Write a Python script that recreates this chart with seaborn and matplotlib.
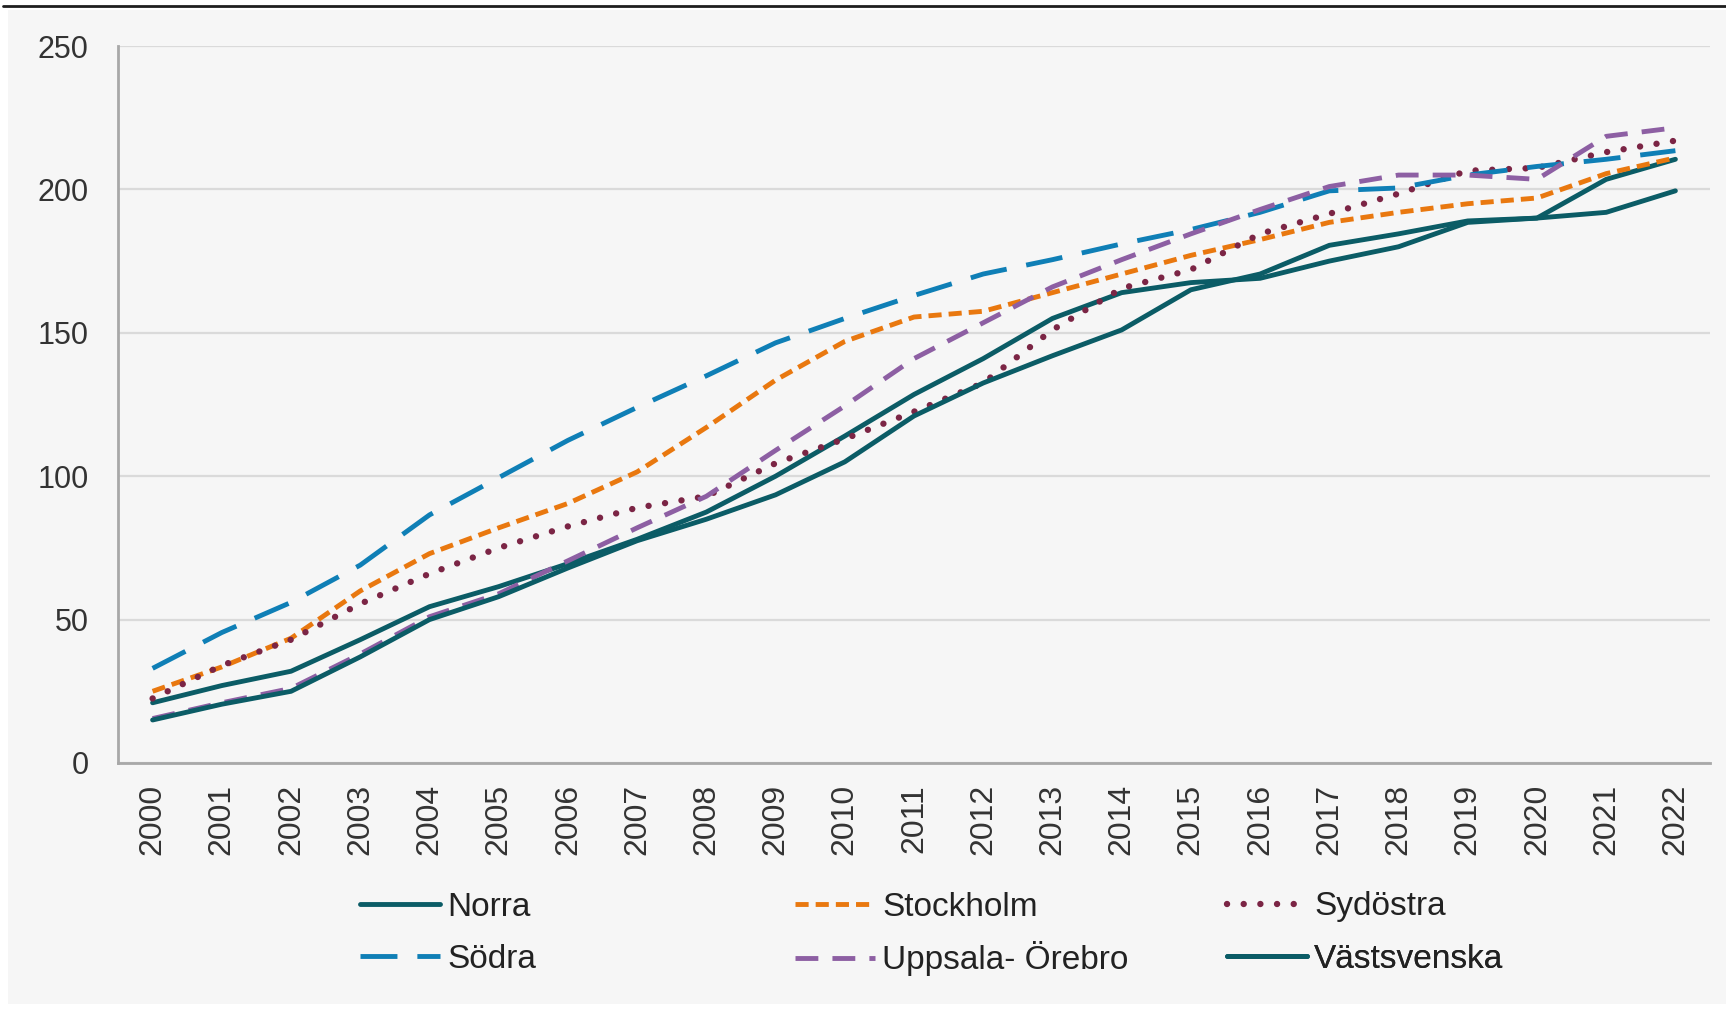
import matplotlib
matplotlib.use("Agg")
import matplotlib.pyplot as plt
from matplotlib.lines import Line2D
from matplotlib.patches import Rectangle
import pandas as pd
import seaborn as sns

# ---- data -------------------------------------------------------------
years = list(range(2000, 2023))

norra = [21, 27, 32, 43, 54.5, 61.5, 69.5, 78, 87.5, 100, 114, 128.5, 141,
         155, 164, 167.5, 169, 175, 180, 188.5, 190, 203.5, 210.5]
stockholm = [25, 33.5, 43.5, 60, 73, 82, 90.5, 101.5, 117, 133.5, 147, 155.5,
             157.5, 164, 170.5, 177, 182.5, 188.5, 192, 195, 197, 205.5, 211]
sydostra = [22.5, 34, 43, 55.5, 66, 75, 82.5, 89, 93, 104.5, 113, 122.5,
            132.5, 151, 165.5, 172, 184.5, 191.5, 198.5, 206.5, 207.5, 213, 217]
sodra = [33, 45.5, 56, 69, 86.5, 99.5, 112.5, 124, 135, 146.5, 155, 163,
         170.5, 175.5, 181, 186, 192, 199.5, 200.5, 205, 208, 210.5, 213.5]
uppsala = [15.5, 21, 26, 38, 51, 59, 70.5, 82, 93, 109, 124.5, 141, 153.5,
           166, 175.5, 184.5, 193, 201, 205, 205, 203.5, 218.5, 221.5]
vastsvenska = [15, 20.5, 25, 37, 50, 58, 68, 77.5, 85, 93.5, 105, 121, 132.5,
               142, 151, 165, 170.5, 180.5, 184.5, 189, 190, 192, 199.5]

regions = ["Norra", "Stockholm", "Sydöstra", "Södra", "Uppsala- Örebro", "Västsvenska"]
series = [norra, stockholm, sydostra, sodra, uppsala, vastsvenska]

df = pd.DataFrame(
    [(r, y, v) for r, vals in zip(regions, series) for y, v in zip(years, vals)],
    columns=["region", "year", "value"],
)

# ---- styling ----------------------------------------------------------
W, H = 1726, 1014
BG = "#f6f6f6"
TEXT = "#333333"
AXIS = "#a8a8a8"
GRID = "#dadada"
LW = 3.5

colors = {
    "Norra": "#0b5c66",
    "Stockholm": "#e9780f",
    "Sydöstra": "#7b2545",
    "Södra": "#0f7fb6",
    "Uppsala- Örebro": "#8d5fa3",
    "Västsvenska": "#0b5c66",
}
dashes = {
    "Norra": "",
    "Stockholm": (2.7, 1.45),
    "Sydöstra": (0.01, 2.6),
    "Södra": (7.6, 4.1),
    "Uppsala- Örebro": (4.7, 2.9),
    "Västsvenska": "",
}

sns.set_theme(style="white")
plt.rcParams["font.family"] = ["Liberation Sans", "DejaVu Sans"]

fig = plt.figure(figsize=(W / 100, H / 100), dpi=100, facecolor="white")
fig.add_artist(Rectangle((8 / W, 1 - 1004 / H), 1 - 8 / W, (1004 - 10) / H,
                         transform=fig.transFigure, facecolor=BG,
                         edgecolor="none", zorder=-10))
fig.add_artist(Line2D([3 / W, 1], [1 - 6 / H, 1 - 6 / H],
                      transform=fig.transFigure, color="#1e1e1e", lw=2.0))

ax = fig.add_axes([118 / W, 1 - 763 / H, (1710 - 118) / W, (763 - 46) / H])
ax.set_facecolor(BG)

sns.lineplot(data=df, x="year", y="value", hue="region", style="region",
             hue_order=regions, style_order=regions, palette=colors,
             dashes=dashes, linewidth=LW, legend=False, ax=ax,
             errorbar=None, sort=False)

for line, name in zip(ax.lines, regions):
    if name == "Sydöstra":
        line.set_linewidth(4.6)
        line.set_dashes((0.01, 2.6))
        line.set_dash_capstyle("round")
    line.set_solid_capstyle("round")
    line.set_solid_joinstyle("round")

# ---- axes -------------------------------------------------------------
ax.set_xlim(1999.5, 2022.5)
ax.set_ylim(0, 250)
ax.set_yticks(range(0, 251, 50))
ax.set_xticks(years)
ax.set_xticklabels([str(y) for y in years], rotation=90)
ax.set_xticks([y + 0.5 for y in years], minor=True)
ax.set_xlabel("")
ax.set_ylabel("")

ax.grid(axis="y", color=GRID, lw=1.6)
ax.grid(axis="x", visible=False)
ax.set_axisbelow(True)
for s in ["top", "right"]:
    ax.spines[s].set_visible(False)
for s in ["left", "bottom"]:
    ax.spines[s].set_color(AXIS)
    ax.spines[s].set_linewidth(2.0)

ax.tick_params(axis="y", length=0, pad=21, labelsize=22, labelcolor=TEXT)
ax.tick_params(axis="x", which="major", length=0, pad=15, labelsize=23,
               labelcolor=TEXT)
ax.tick_params(axis="x", which="minor", direction="in", length=11,
               width=1.5, color=AXIS)

# ---- legend: one entry per slot, three columns by two rows ------------
handles = {}
for line, name in zip(ax.lines, regions):
    h = Line2D([], [], color=line.get_color(), lw=line.get_linewidth())
    if dashes[name]:
        h.set_dashes(line._dash_pattern[1] and
                     [v / line.get_linewidth() for v in line._dash_pattern[1]]
                     or dashes[name])
    if name == "Sydöstra":
        h.set_dash_capstyle("round")
    handles[name] = h

col_x = [360, 795, 1227]
row_y = [907, 959]
for i, name in enumerate(regions):
    x = col_x[i % 3]
    y = row_y[i // 3]
    leg = ax.legend([handles[name]], [name], loc="center left",
                    bbox_to_anchor=(x / W, 1 - y / H),
                    bbox_transform=fig.transFigure, frameon=False,
                    fontsize=24, handlelength=2.4, handletextpad=0.21,
                    borderpad=0, borderaxespad=0)
    for t in leg.get_texts():
        t.set_color("#222222")
    ax.add_artist(leg)

fig.savefig("out.png", dpi=100, facecolor="white")
